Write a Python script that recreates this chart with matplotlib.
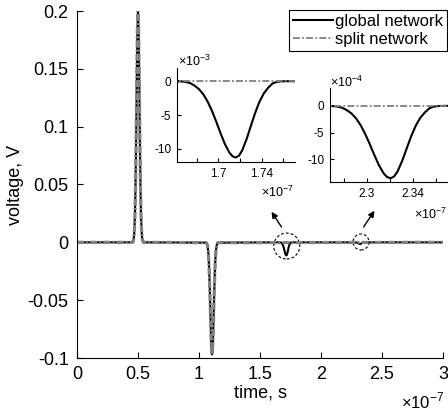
import matplotlib
matplotlib.use("Agg")
import matplotlib.pyplot as plt
from matplotlib.patches import Ellipse

plt.rcParams['font.family'] = ['Liberation Sans', 'DejaVu Sans']
plt.rcParams['axes.unicode_minus'] = False
plt.rcParams['mathtext.fontset'] = 'custom'
plt.rcParams['mathtext.rm'] = 'Liberation Sans'
plt.rcParams['lines.scale_dashes'] = False

############################## DATA (time in 1e-7 s) ##############################
# first pulse, volts
pulse1_t = [0.455, 0.46, 0.465, 0.47, 0.475, 0.48, 0.485, 0.49, 0.495, 0.50,
            0.505, 0.51, 0.515, 0.52, 0.525, 0.53, 0.535, 0.54, 0.545]
pulse1_v = [0.0, 0.0008, 0.003, 0.0088, 0.023, 0.050, 0.092, 0.141, 0.183, 0.200,
            0.183, 0.141, 0.092, 0.050, 0.023, 0.0088, 0.003, 0.0008, 0.0]

# reflected negative pulse, volts
pulse2_t = [1.06, 1.065, 1.07, 1.075, 1.08, 1.085, 1.09, 1.095, 1.10, 1.104, 1.107,
            1.11, 1.114, 1.119, 1.124, 1.129, 1.134, 1.139, 1.144, 1.149, 1.154]
pulse2_v = [-0.0003, -0.0011, -0.003, -0.0071, -0.0151, -0.0282, -0.0464, -0.0672, -0.0856, -0.0948, -0.097,
            -0.0948, -0.0856, -0.0672, -0.0464, -0.0282, -0.0151, -0.0071, -0.003, -0.0011, -0.0003]

# small dip 1 (global network only), x1e-3 V
dip1_t = [1.658, 1.662, 1.666, 1.670, 1.674, 1.678, 1.682, 1.686, 1.690, 1.694, 1.698,
          1.702, 1.706, 1.710, 1.713, 1.716, 1.719, 1.722, 1.726, 1.730, 1.734,
          1.738, 1.742, 1.746, 1.750, 1.754, 1.758, 1.762, 1.766, 1.775]
dip1_v = [0.0, 0.0, -0.03, -0.12, -0.30, -0.67, -1.18, -1.95, -3.02, -4.39, -6.00,
          -7.71, -9.30, -10.53, -11.10, -11.30, -11.03, -10.25, -8.62, -6.65, -4.71,
          -3.06, -1.82, -0.99, -0.35, -0.10, -0.02, 0.0, 0.0, 0.0]

# small dip 2 (global network only), x1e-4 V
dip2_t = [2.262, 2.2665, 2.2705, 2.2745, 2.2785, 2.2825, 2.2865, 2.2905, 2.2945, 2.2985, 2.3025,
          2.3065, 2.3105, 2.3145, 2.3175, 2.3205, 2.3235, 2.3265, 2.3305, 2.3345, 2.3385,
          2.3425, 2.3465, 2.3505, 2.3545, 2.3585, 2.3625, 2.3665, 2.375]
dip2_v = [0.0, 0.0, -0.04, -0.14, -0.36, -0.81, -1.42, -2.35, -3.63, -5.29, -7.22,
          -9.28, -11.19, -12.68, -13.36, -13.60, -13.27, -12.34, -10.38, -8.01, -5.66,
          -3.67, -2.19, -1.19, -0.42, -0.12, -0.03, 0.0, 0.0]

t_start, t_end = 0.0, 3.0

xticks = [0, 0.5, 1, 1.5, 2, 2.5, 3]
xticklabels = ['0', '0.5', '1', '1.5', '2', '2.5', '3']
yticks = [-0.1, -0.05, 0, 0.05, 0.1, 0.15, 0.2]
yticklabels = ['-0.1', '-0.05', '0', '0.05', '0.1', '0.15', '0.2']

ins1_xticks = [1.68, 1.70, 1.72, 1.74, 1.76]
ins1_xlabels = ['', '1.7', '', '1.74', '']
ins2_xticks = [2.28, 2.30, 2.32, 2.34, 2.36]
ins2_xlabels = ['', '2.3', '', '2.34', '']
ins1_yticks = [-10, -5, 0]
ins2_yticks = [-10, -5, 0]
###################################################################################

# build full traces
dip1_volts = [v * 1e-3 for v in dip1_v]
dip2_volts = [v * 1e-4 for v in dip2_v]
glob_t = [t_start] + pulse1_t + pulse2_t + dip1_t + dip2_t + [t_end]
glob_v = [0.0] + pulse1_v + pulse2_v + dip1_volts + dip2_volts + [0.0]
split_t = [t_start] + pulse1_t + pulse2_t + [t_end]
split_v = [0.0] + pulse1_v + pulse2_v + [0.0]

gray = '0.5'
dd = (0, (5, 1.6, 1.3, 1.6))

fig = plt.figure(figsize=(4.48, 4.15), dpi=100)
W, H = 448.0, 415.0

def px(l, t, r, b):
    return [l / W, 1 - b / H, (r - l) / W, (b - t) / H]

ax = fig.add_axes(px(77, 11, 443, 358))
ax.plot(glob_t, glob_v, color='k', lw=1.5)
ax.plot(split_t, split_v, color=gray, lw=2.3, linestyle=dd)
ax.set_xlim(0, 3)
ax.set_ylim(-0.1, 0.2)
ax.set_xticks(xticks)
ax.set_xticklabels(xticklabels)
ax.set_yticks(yticks)
ax.set_yticklabels(yticklabels)
ax.tick_params(direction='in', length=4, labelsize=13, pad=6, width=0.8)
for s in ['top', 'right']:
    ax.spines[s].set_visible(False)
ax.set_xlabel('time, s', fontsize=13, labelpad=1)
ax.set_ylabel('voltage, V', fontsize=13, labelpad=3)
fig.text(444 / W, 1 - 401 / H, r'$\times10^{-7}$', fontsize=12, ha='right', va='center')

# circles and arrows marking the small dips
ax.add_patch(Ellipse((1.719, -0.0032), 26 / 122, 26 / 1160, fill=False, ls=(0, (2, 1.5)), lw=0.8, color='k'))
ax.add_patch(Ellipse((2.328, 0.0003), 16 / 122, 16 / 1160, fill=False, ls=(0, (2, 1.5)), lw=0.8, color='k'))
ax.annotate('', xy=(1.582, 0.0284), xytext=(1.689, 0.0112),
            arrowprops=dict(arrowstyle='-|>', color='k', lw=1.0, mutation_scale=9))
ax.annotate('', xy=(2.451, 0.0293), xytext=(2.336, 0.0112),
            arrowprops=dict(arrowstyle='-|>', color='k', lw=1.0, mutation_scale=9))

# inset 1
a1 = fig.add_axes(px(176.7, 67.7, 295, 162.3))
l_glob, = a1.plot(dip1_t, dip1_v, color='k', lw=1.5)
l_split, = a1.plot([1.655, 1.775], [0, 0], color=gray, lw=1.3, linestyle=dd)
a1.set_xlim(1.6613, 1.771)
a1.set_ylim(-12, 2)
a1.set_xticks(ins1_xticks)
a1.set_xticklabels(ins1_xlabels)
a1.set_yticks(ins1_yticks)
a1.set_yticklabels([str(v) for v in ins1_yticks])
fig.text(178 / W, 1 - 61 / H, r'$\times10^{-3}$', fontsize=9, ha='left', va='center')
fig.text(294 / W, 1 - 192 / H, r'$\times10^{-7}$', fontsize=9, ha='right', va='center')

# inset 2
a2 = fig.add_axes(px(329.7, 88.3, 447.5, 182.3))
a2.plot(dip2_t, dip2_v, color='k', lw=1.5)
a2.plot([2.26, 2.38], [0, 0], color=gray, lw=1.3, linestyle=dd)
a2.set_xlim(2.2676, 2.370)
a2.set_ylim(-14.35, 3.3)
a2.set_xticks(ins2_xticks)
a2.set_xticklabels(ins2_xlabels)
a2.set_yticks(ins2_yticks)
a2.set_yticklabels([str(v) for v in ins2_yticks])
fig.text(330 / W, 1 - 82 / H, r'$\times10^{-4}$', fontsize=9, ha='left', va='center')
fig.text(447 / W, 1 - 214 / H, r'$\times10^{-7}$', fontsize=9, ha='right', va='center')

for a in (a1, a2):
    a.set_facecolor('white')
    a.tick_params(direction='in', length=3, labelsize=8.5, pad=4, width=0.8)
    for s in ['top', 'right']:
        a.spines[s].set_visible(False)

leg = ax.legend([l_glob, l_split], ['global network', 'split network'],
                loc='upper right', bbox_to_anchor=(447 / W, 1 - 10 / H),
                bbox_transform=fig.transFigure, borderaxespad=0, fontsize=12,
                handlelength=2.4, handletextpad=0.1, borderpad=0.25, labelspacing=0.15,
                fancybox=False, framealpha=1, edgecolor='k')
leg.get_frame().set_linewidth(0.8)

fig.savefig('out.png', dpi=100)
